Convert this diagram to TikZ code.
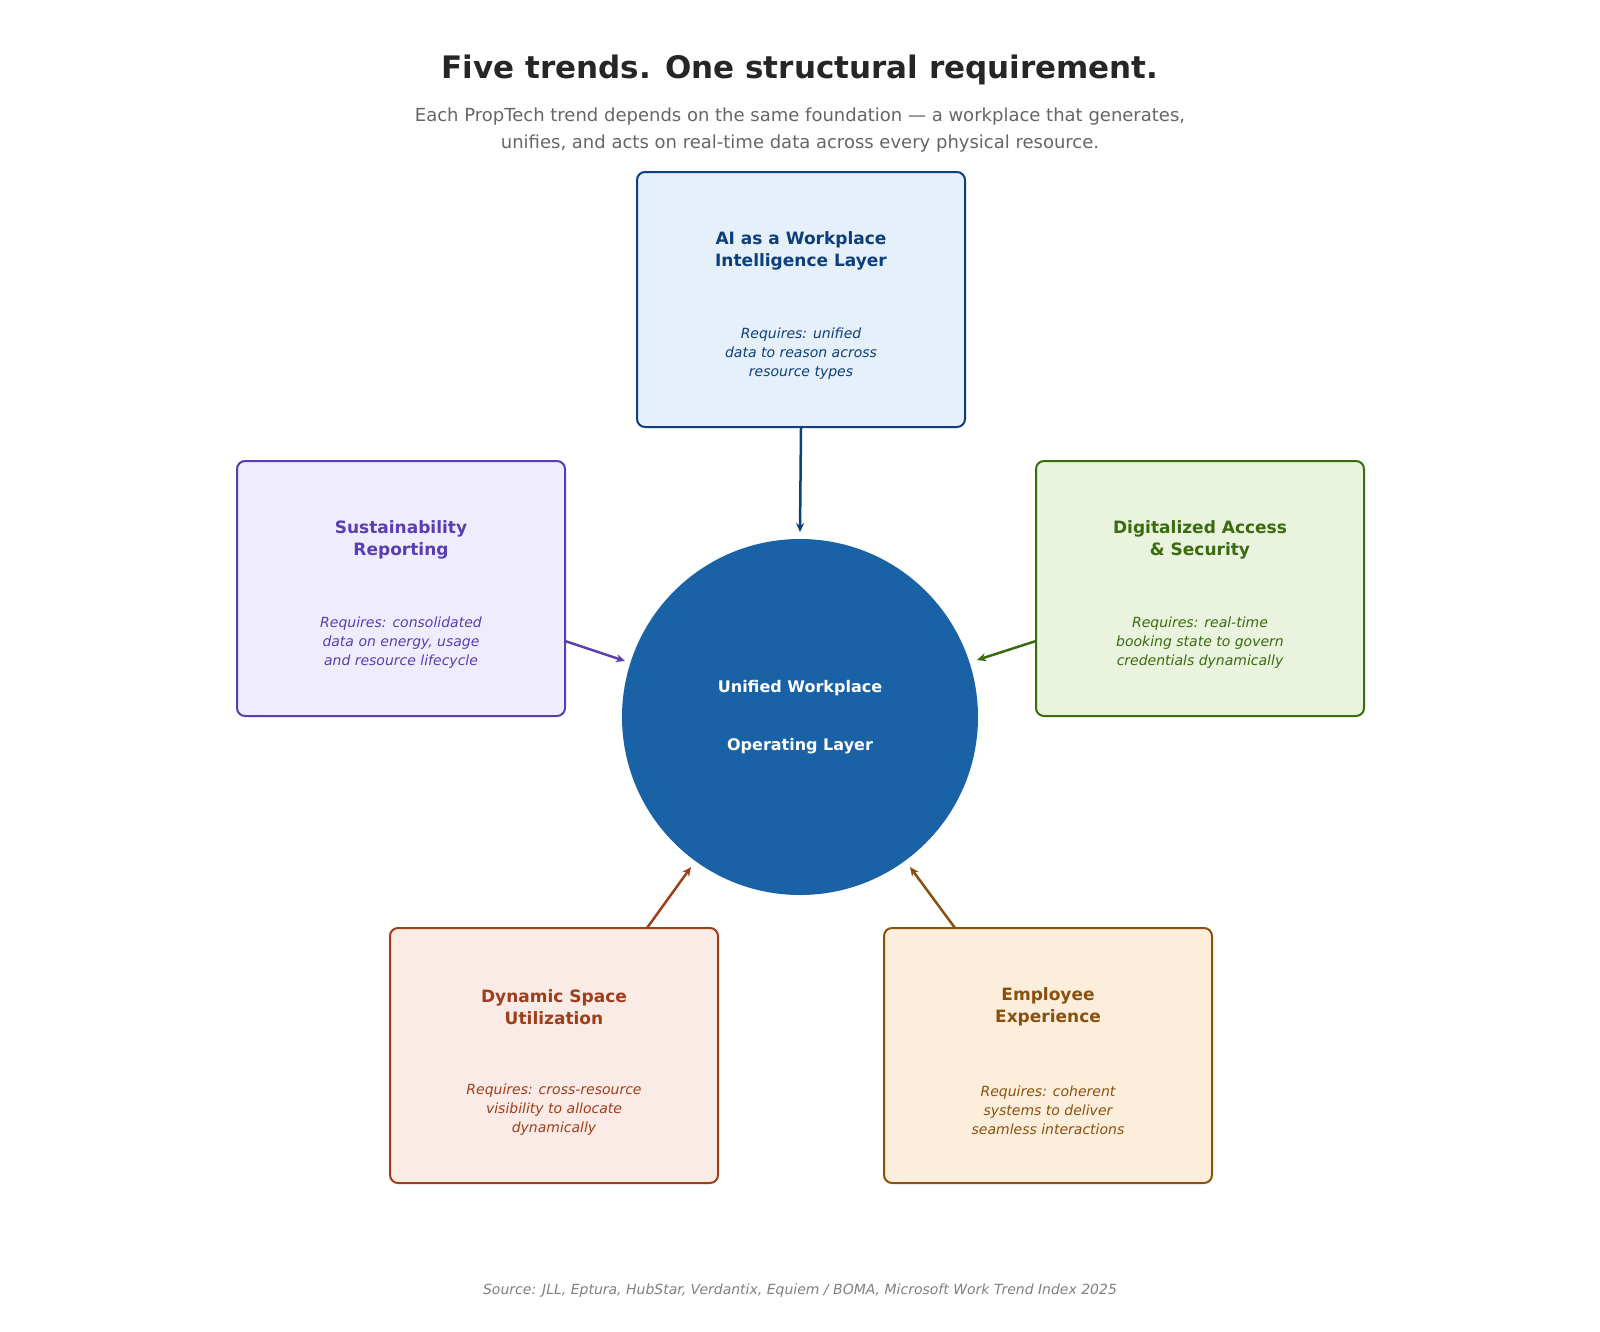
\documentclass[tikz,border=0pt]{standalone}
\usepackage{fontspec}
\setmainfont{DejaVu Sans}
\usetikzlibrary{arrows.meta}
\definecolor{aiB}{HTML}{0D3F7A}\definecolor{aiF}{HTML}{E5F0FB}
\definecolor{suB}{HTML}{5A3DB0}\definecolor{suF}{HTML}{EFEDFD}
\definecolor{diB}{HTML}{3A6B0F}\definecolor{diF}{HTML}{E9F3DD}
\definecolor{dyB}{HTML}{9E3E1A}\definecolor{dyF}{HTML}{FBEBE6}
\definecolor{emB}{HTML}{8A5010}\definecolor{emF}{HTML}{FDEEDB}
\definecolor{core}{HTML}{1A62A6}
\tikzset{
 card/.style={draw=#1,line width=2pt,rounded corners=8pt,minimum width=328pt,minimum height=255pt,inner sep=0pt},
 ttl/.style={text=#1,font=\fontsize{17}{22}\selectfont\bfseries,align=center},
 bod/.style={text=#1,font=\fontsize{14}{19}\selectfont\itshape,align=center},
 arr/.style={draw=#1,line width=2.5pt,-{Stealth[length=9pt,width=8pt]}},
}
\begin{document}
\begin{tikzpicture}[x=1pt,y=-1pt]
\useasboundingbox[fill=white] (0,0) rectangle (1600,1331);
\node[text=black!85,font=\fontsize{31}{36}\selectfont\bfseries] (title) at (800,70) {Five trends. One structural requirement.};
\node[text=black!60,font=\fontsize{18}{27}\selectfont,align=center] (sub) at (800,130) {Each PropTech trend depends on the same foundation — a workplace that generates,\\unifies, and acts on real-time data across every physical resource.};
\node[circle,fill=core,minimum size=356pt,inner sep=0pt] (core) at (800,717) {};
\node[text=white,font=\fontsize{16}{20}\selectfont\bfseries] (c1) at (800,688) {Unified Workplace};
\node[text=white,font=\fontsize{16}{20}\selectfont\bfseries] (c2) at (800,746) {Operating Layer};
% boxes
\node[card=aiB,fill=aiF] (ai) at (801,299.5) {};
\node[ttl=aiB] at (801,251) {AI as a Workplace\\Intelligence Layer};
\node[bod=aiB] at (801,354) {Requires: unified\\data to reason across\\resource types};
\node[card=suB,fill=suF] (su) at (401,588.5) {};
\node[ttl=suB] at (401,540) {Sustainability\\Reporting};
\node[bod=suB] at (401,643) {Requires: consolidated\\data on energy, usage\\and resource lifecycle};
\node[card=diB,fill=diF] (di) at (1200,588.5) {};
\node[ttl=diB] at (1200,540) {Digitalized Access\\\& Security};
\node[bod=diB] at (1200,643) {Requires: real-time\\booking state to govern\\credentials dynamically};
\node[card=dyB,fill=dyF] (dy) at (554,1055.5) {};
\node[ttl=dyB] at (554,1007) {Dynamic Space\\Utilization};
\node[bod=dyB] at (554,1110) {Requires: cross-resource\\visibility to allocate\\dynamically};
\node[card=emB,fill=emF] (em) at (1048,1055.5) {};
\node[ttl=emB] at (1048,1007) {Employee\\Experience};
\node[bod=emB] at (1048,1110) {Requires: coherent\\systems to deliver\\seamless interactions};
% arrows
\coordinate (aT) at (800,532);
\coordinate (sS) at (565,641); \coordinate (sT) at (625,661);
\coordinate (dS) at (1036,641); \coordinate (dT) at (977,660);
\coordinate (yS) at (647,928); \coordinate (yT) at (691,867);
\coordinate (eS) at (955,928); \coordinate (eT) at (910,867);
\draw[arr=aiB] (ai.south) -- (aT);
\draw[arr=suB] (sS) -- (sT);
\draw[arr=diB] (dS) -- (dT);
\draw[arr=dyB] (yS) -- (yT);
\draw[arr=emB] (eS) -- (eT);
\node[text=black!50,font=\fontsize{14}{18}\selectfont\itshape] (src) at (800,1291) {Source: JLL, Eptura, HubStar, Verdantix, Equiem / BOMA, Microsoft Work Trend Index 2025};
\end{tikzpicture}
\end{document}
